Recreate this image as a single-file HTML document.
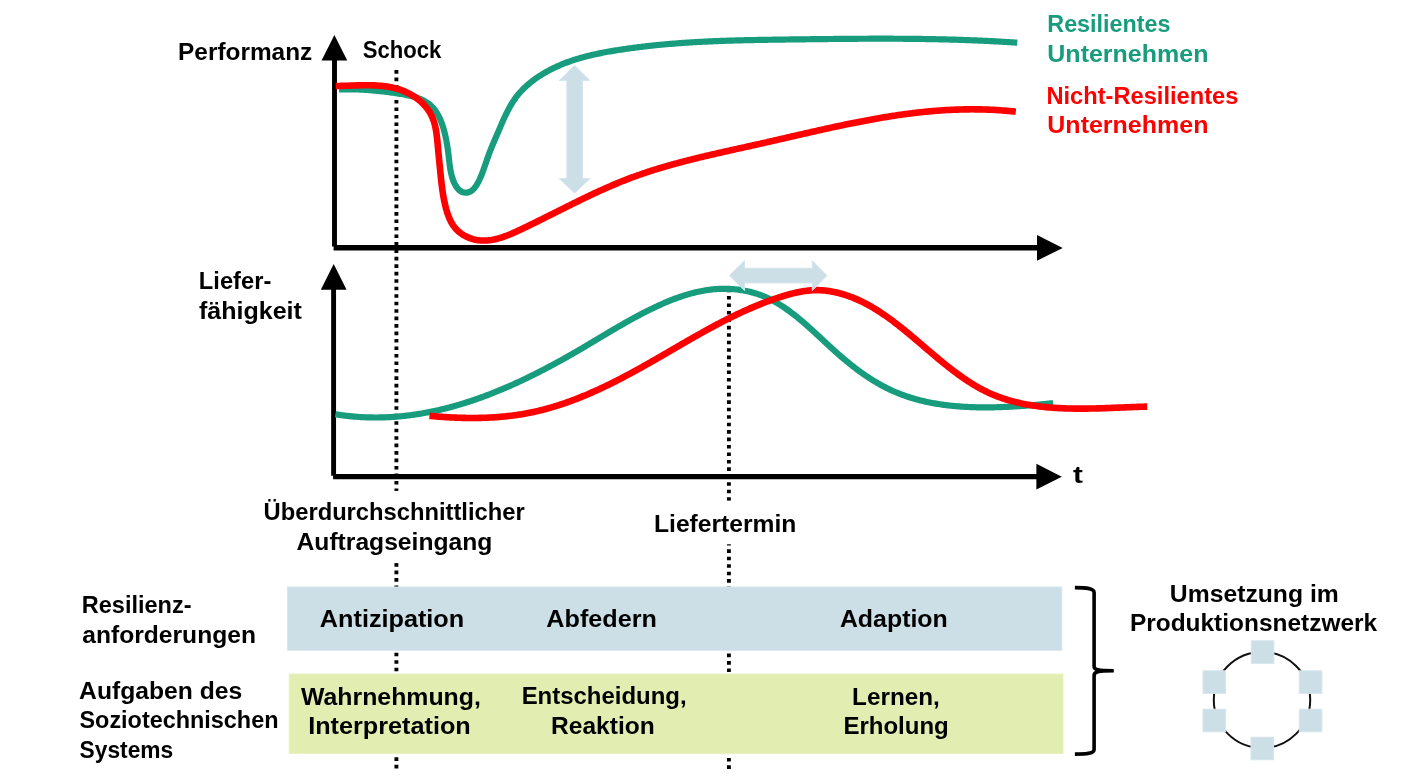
<!DOCTYPE html>
<html><head><meta charset="utf-8"><style>
html,body{margin:0;padding:0;background:#fff;width:1407px;height:780px;overflow:hidden}
svg{display:block;will-change:transform}
text{font-family:"Liberation Sans",sans-serif;font-weight:bold}
</style></head><body>
<svg width="1407" height="780" viewBox="0 0 1407 780">
<line x1="396.4" y1="70.1" x2="396.4" y2="769" stroke="#000" stroke-width="3.9" stroke-dasharray="3.6 3.87"/>
<line x1="728.9" y1="288.55" x2="728.9" y2="769" stroke="#000" stroke-width="3.9" stroke-dasharray="3.6 3.85"/>
<rect x="380" y="490.9" width="40" height="72.2" fill="#fff"/>
<rect x="715" y="500.8" width="30" height="43.5" fill="#fff"/>
<rect x="287.5" y="587" width="774.3" height="63.3" fill="#CCDEE6" stroke="#D6E6EE" stroke-width="1"/>
<rect x="289.2" y="674" width="773.8" height="79.5" fill="#E2EDB1" stroke="#E8F1BF" stroke-width="1"/>
<line x1="334.5" y1="55" x2="334.5" y2="246.5" stroke="#000" stroke-width="4.9"/>
<line x1="333.6" y1="247.7" x2="1040" y2="247.7" stroke="#000" stroke-width="5.4"/>
<polygon points="321.55,60.60 334.40,34.90 347.25,60.60" fill="#000"/>
<polygon points="1037.00,235.05 1062.70,247.90 1037.00,260.75" fill="#000"/>
<line x1="333.6" y1="285" x2="333.6" y2="475.8" stroke="#000" stroke-width="4.9"/>
<line x1="333.1" y1="476.6" x2="1040" y2="476.6" stroke="#000" stroke-width="5.2"/>
<polygon points="320.85,289.80 333.70,264.00 346.55,289.80" fill="#000"/>
<polygon points="1036.40,463.85 1061.80,476.70 1036.40,489.55" fill="#000"/>
<polygon points="574.60,65.50 590.00,80.50 582.40,80.50 582.40,178.60 590.00,178.60 574.60,193.20 559.20,178.60 566.80,178.60 566.80,80.50 559.20,80.50" fill="#CCDEE6" stroke="#D6E6EE" stroke-width="1"/>
<path d="M338.93,89.44 L340.40,89.41 L341.86,89.38 L343.30,89.35 L344.73,89.33 L346.15,89.32 L347.56,89.32 L348.95,89.32 L350.34,89.33 L351.72,89.34 L353.09,89.37 L354.46,89.39 L355.81,89.43 L357.16,89.47 L358.50,89.51 L359.84,89.57 L361.17,89.63 L362.50,89.69 L363.82,89.76 L365.14,89.84 L366.46,89.92 L367.78,90.01 L369.09,90.10 L370.40,90.21 L371.72,90.31 L373.03,90.42 L374.34,90.54 L375.65,90.66 L376.97,90.79 L378.29,90.93 L379.61,91.07 L380.93,91.21 L382.26,91.36 L383.59,91.52 L384.93,91.68 L386.27,91.85 L387.62,92.02 L388.97,92.20 L390.33,92.38 L391.71,92.57 L393.08,92.76 L394.47,92.96 L395.87,93.16 L397.27,93.37 L398.69,93.59 L400.10,93.82 L401.52,94.05 L402.94,94.30 L404.36,94.56 L405.77,94.84 L407.18,95.13 L408.59,95.44 L409.98,95.77 L411.37,96.11 L412.74,96.48 L414.11,96.88 L415.45,97.29 L416.78,97.73 L418.09,98.20 L419.39,98.70 L420.65,99.22 L421.90,99.78 L423.12,100.37 L424.31,100.99 L425.47,101.65 L426.61,102.34 L427.71,103.07 L428.77,103.84 L429.80,104.65 L430.79,105.51 L431.74,106.40 L432.65,107.34 L433.53,108.32 L434.37,109.33 L435.17,110.38 L435.94,111.46 L436.67,112.58 L437.37,113.72 L438.04,114.89 L438.68,116.08 L439.28,117.30 L439.86,118.53 L440.42,119.79 L440.94,121.06 L441.44,122.35 L441.92,123.64 L442.38,124.95 L442.81,126.27 L443.22,127.59 L443.61,128.91 L443.98,130.24 L444.33,131.57 L444.67,132.89 L444.99,134.21 L445.30,135.52 L445.59,136.84 L445.87,138.15 L446.13,139.45 L446.39,140.76 L446.63,142.07 L446.86,143.38 L447.08,144.70 L447.29,146.02 L447.49,147.34 L447.69,148.67 L447.88,150.01 L448.06,151.35 L448.24,152.71 L448.41,154.07 L448.58,155.45 L448.74,156.84 L448.90,158.24 L449.06,159.65 L449.22,161.07 L449.39,162.50 L449.56,163.94 L449.75,165.38 L449.95,166.82 L450.16,168.26 L450.40,169.69 L450.66,171.12 L450.94,172.54 L451.25,173.95 L451.59,175.35 L451.96,176.73 L452.37,178.10 L452.82,179.44 L453.31,180.77 L453.84,182.07 L454.43,183.34 L455.06,184.59 L455.74,185.78 L456.47,186.93 L457.26,188.00 L458.09,188.99 L458.97,189.88 L459.90,190.67 L460.89,191.33 L461.91,191.86 L462.97,192.27 L464.05,192.55 L465.14,192.70 L466.24,192.72 L467.34,192.61 L468.42,192.36 L469.47,191.98 L470.50,191.47 L471.49,190.83 L472.44,190.07 L473.36,189.20 L474.24,188.23 L475.10,187.17 L475.92,186.04 L476.70,184.83 L477.46,183.56 L478.19,182.24 L478.89,180.89 L479.56,179.50 L480.20,178.09 L480.81,176.67 L481.40,175.25 L481.96,173.83 L482.50,172.44 L483.01,171.06 L483.50,169.71 L483.98,168.37 L484.44,167.06 L484.89,165.75 L485.33,164.46 L485.76,163.18 L486.20,161.91 L486.62,160.65 L487.06,159.39 L487.49,158.14 L487.94,156.89 L488.39,155.64 L488.85,154.40 L489.32,153.15 L489.80,151.90 L490.29,150.66 L490.78,149.41 L491.28,148.17 L491.78,146.92 L492.29,145.68 L492.81,144.44 L493.33,143.19 L493.86,141.94 L494.39,140.70 L494.92,139.45 L495.45,138.20 L495.99,136.95 L496.53,135.70 L497.07,134.45 L497.62,133.19 L498.16,131.94 L498.71,130.68 L499.25,129.42 L499.80,128.15 L500.34,126.89 L500.89,125.62 L501.44,124.36 L501.99,123.09 L502.55,121.83 L503.11,120.56 L503.67,119.30 L504.24,118.05 L504.82,116.79 L505.41,115.54 L506.00,114.30 L506.61,113.06 L507.22,111.83 L507.85,110.60 L508.48,109.39 L509.13,108.18 L509.80,106.98 L510.47,105.79 L511.16,104.61 L511.87,103.44 L512.59,102.29 L513.34,101.14 L514.09,100.01 L514.87,98.89 L515.67,97.79 L516.49,96.70 L517.33,95.63 L518.18,94.57 L519.06,93.53 L519.96,92.50 L520.87,91.49 L521.80,90.49 L522.75,89.51 L523.72,88.54 L524.70,87.59 L525.70,86.65 L526.71,85.73 L527.74,84.82 L528.78,83.93 L529.83,83.05 L530.90,82.18 L531.98,81.33 L533.07,80.49 L534.18,79.67 L535.29,78.86 L536.42,78.07 L537.55,77.29 L538.69,76.52 L539.84,75.77 L541.00,75.03 L542.17,74.31 L543.35,73.60 L544.53,72.90 L545.71,72.21 L546.91,71.54 L548.10,70.89 L549.31,70.24 L550.52,69.61 L551.73,68.99 L552.95,68.39 L554.18,67.79 L555.41,67.21 L556.64,66.64 L557.88,66.08 L559.12,65.54 L560.37,65.00 L561.63,64.48 L562.88,63.97 L564.15,63.47 L565.41,62.97 L566.68,62.49 L567.96,62.02 L569.24,61.56 L570.52,61.11 L571.80,60.67 L573.09,60.24 L574.39,59.82 L575.68,59.41 L576.98,59.01 L578.29,58.61 L579.59,58.23 L580.90,57.85 L582.21,57.48 L583.53,57.12 L584.85,56.77 L586.17,56.42 L587.49,56.09 L588.82,55.76 L590.15,55.43 L591.48,55.12 L592.81,54.81 L594.15,54.51 L595.48,54.21 L596.82,53.92 L598.16,53.64 L599.50,53.36 L600.85,53.09 L602.19,52.82 L603.54,52.56 L604.89,52.31 L606.24,52.06 L607.59,51.81 L608.94,51.57 L610.29,51.33 L611.65,51.10 L613.00,50.87 L614.36,50.65 L615.71,50.43 L617.07,50.21 L618.42,49.99 L619.78,49.78 L621.14,49.58 L622.49,49.37 L623.85,49.17 L625.21,48.97 L626.57,48.78 L627.92,48.58 L629.28,48.39 L630.64,48.20 L632.00,48.02 L633.36,47.84 L634.71,47.66 L636.07,47.48 L637.43,47.31 L638.79,47.14 L640.15,46.97 L641.51,46.81 L642.87,46.64 L644.23,46.48 L645.59,46.33 L646.95,46.17 L648.31,46.02 L649.67,45.87 L651.03,45.72 L652.39,45.58 L653.75,45.43 L655.11,45.29 L656.47,45.16 L657.83,45.02 L659.19,44.89 L660.55,44.76 L661.91,44.63 L663.28,44.50 L664.64,44.38 L666.00,44.26 L667.36,44.14 L668.72,44.02 L670.09,43.90 L671.45,43.79 L672.81,43.68 L674.17,43.57 L675.54,43.47 L676.90,43.36 L678.26,43.26 L679.63,43.16 L680.99,43.06 L682.35,42.96 L683.72,42.87 L685.08,42.77 L686.44,42.68 L687.81,42.59 L689.17,42.51 L690.53,42.42 L691.90,42.34 L693.26,42.26 L694.63,42.18 L695.99,42.10 L697.36,42.02 L698.72,41.95 L700.09,41.87 L701.45,41.80 L702.82,41.73 L704.18,41.66 L705.55,41.59 L706.91,41.53 L708.28,41.46 L709.64,41.40 L711.01,41.34 L712.37,41.28 L713.74,41.22 L715.10,41.17 L716.47,41.11 L717.84,41.06 L719.20,41.00 L720.57,40.95 L721.93,40.90 L723.30,40.85 L724.67,40.80 L726.03,40.76 L727.40,40.71 L728.76,40.67 L730.13,40.62 L731.50,40.58 L732.86,40.54 L734.23,40.50 L735.60,40.46 L736.96,40.42 L738.33,40.39 L739.70,40.35 L741.07,40.31 L742.43,40.28 L743.80,40.25 L745.17,40.21 L746.53,40.18 L747.90,40.15 L749.27,40.12 L750.64,40.09 L752.00,40.06 L753.37,40.04 L754.74,40.01 L756.11,39.98 L757.47,39.96 L758.84,39.93 L760.21,39.91 L761.58,39.88 L762.94,39.86 L764.31,39.84 L765.68,39.81 L767.05,39.79 L768.42,39.77 L769.78,39.75 L771.15,39.73 L772.52,39.71 L773.89,39.69 L775.25,39.67 L776.62,39.65 L777.99,39.63 L779.36,39.61 L780.73,39.60 L782.09,39.58 L783.46,39.56 L784.83,39.54 L786.20,39.52 L787.57,39.51 L788.93,39.49 L790.30,39.47 L791.67,39.46 L793.04,39.44 L794.41,39.42 L795.78,39.40 L797.14,39.39 L798.51,39.37 L799.88,39.35 L801.25,39.34 L802.62,39.32 L803.98,39.30 L805.35,39.29 L806.72,39.27 L808.09,39.25 L809.46,39.24 L810.82,39.22 L812.19,39.20 L813.56,39.19 L814.93,39.17 L816.30,39.15 L817.66,39.14 L819.03,39.12 L820.40,39.11 L821.77,39.09 L823.14,39.08 L824.50,39.06 L825.87,39.05 L827.24,39.03 L828.61,39.02 L829.98,39.00 L831.34,38.99 L832.71,38.98 L834.08,38.96 L835.45,38.95 L836.82,38.94 L838.18,38.92 L839.55,38.91 L840.92,38.90 L842.29,38.89 L843.66,38.88 L845.02,38.86 L846.39,38.85 L847.76,38.84 L849.13,38.83 L850.50,38.82 L851.86,38.81 L853.23,38.80 L854.60,38.79 L855.97,38.79 L857.34,38.78 L858.70,38.77 L860.07,38.76 L861.44,38.75 L862.81,38.75 L864.17,38.74 L865.54,38.74 L866.91,38.73 L868.28,38.73 L869.65,38.72 L871.01,38.72 L872.38,38.71 L873.75,38.71 L875.12,38.71 L876.48,38.71 L877.85,38.71 L879.22,38.70 L880.59,38.70 L881.96,38.70 L883.32,38.70 L884.69,38.71 L886.06,38.71 L887.43,38.71 L888.79,38.71 L890.16,38.72 L891.53,38.72 L892.90,38.72 L894.27,38.73 L895.63,38.73 L897.00,38.74 L898.37,38.75 L899.74,38.76 L901.10,38.76 L902.47,38.77 L903.84,38.78 L905.21,38.79 L906.57,38.80 L907.94,38.82 L909.31,38.83 L910.68,38.84 L912.04,38.85 L913.41,38.87 L914.78,38.88 L916.15,38.90 L917.51,38.92 L918.88,38.93 L920.25,38.95 L921.62,38.97 L922.98,38.99 L924.35,39.01 L925.72,39.03 L927.09,39.05 L928.45,39.08 L929.82,39.10 L931.19,39.13 L932.56,39.15 L933.92,39.18 L935.29,39.20 L936.66,39.23 L938.02,39.26 L939.39,39.29 L940.76,39.32 L942.13,39.35 L943.49,39.38 L944.86,39.42 L946.23,39.45 L947.60,39.49 L948.96,39.52 L950.33,39.56 L951.70,39.60 L953.06,39.64 L954.43,39.68 L955.80,39.72 L957.17,39.76 L958.53,39.80 L959.90,39.85 L961.27,39.89 L962.63,39.94 L964.00,39.98 L965.37,40.03 L966.73,40.08 L968.10,40.13 L969.47,40.18 L970.84,40.23 L972.20,40.29 L973.57,40.34 L974.94,40.40 L976.30,40.45 L977.67,40.51 L979.04,40.57 L980.40,40.63 L981.77,40.69 L983.14,40.75 L984.50,40.81 L985.87,40.88 L987.24,40.94 L988.60,41.01 L989.97,41.08 L991.34,41.15 L992.70,41.22 L994.07,41.29 L995.44,41.36 L996.80,41.43 L998.17,41.51 L999.54,41.59 L1000.90,41.66 L1002.27,41.74 L1003.64,41.82 L1005.00,41.90 L1006.37,41.99 L1007.74,42.07 L1009.10,42.15 L1010.47,42.24 L1011.83,42.33 L1013.20,42.42 L1014.57,42.51 L1015.93,42.60 L1017.30,42.69" fill="none" stroke="#179C7D" stroke-width="6.2"/>
<path d="M335.65,85.97 L336.92,85.97 L338.20,85.96 L339.49,85.94 L340.78,85.92 L342.09,85.89 L343.40,85.86 L344.72,85.82 L346.04,85.78 L347.37,85.73 L348.70,85.69 L350.04,85.64 L351.39,85.60 L352.74,85.55 L354.09,85.50 L355.45,85.46 L356.81,85.42 L358.18,85.38 L359.54,85.34 L360.91,85.31 L362.29,85.29 L363.66,85.27 L365.03,85.26 L366.41,85.25 L367.79,85.25 L369.16,85.27 L370.54,85.29 L371.91,85.32 L373.29,85.37 L374.66,85.42 L376.03,85.49 L377.40,85.57 L378.77,85.67 L380.14,85.78 L381.50,85.90 L382.86,86.04 L384.21,86.20 L385.56,86.38 L386.91,86.57 L388.25,86.79 L389.59,87.02 L390.92,87.28 L392.24,87.55 L393.56,87.85 L394.87,88.17 L396.18,88.51 L397.48,88.88 L398.77,89.27 L400.05,89.69 L401.32,90.14 L402.59,90.61 L403.84,91.11 L405.08,91.63 L406.31,92.18 L407.53,92.75 L408.73,93.35 L409.92,93.98 L411.10,94.63 L412.26,95.31 L413.40,96.01 L414.52,96.73 L415.62,97.48 L416.71,98.26 L417.77,99.06 L418.81,99.88 L419.83,100.73 L420.83,101.60 L421.80,102.49 L422.74,103.41 L423.66,104.35 L424.56,105.31 L425.42,106.30 L426.26,107.31 L427.07,108.34 L427.85,109.39 L428.59,110.47 L429.31,111.57 L429.99,112.69 L430.63,113.83 L431.24,115.00 L431.82,116.18 L432.36,117.39 L432.86,118.62 L433.33,119.87 L433.76,121.13 L434.16,122.42 L434.53,123.71 L434.88,125.03 L435.19,126.36 L435.48,127.70 L435.75,129.05 L435.99,130.40 L436.22,131.77 L436.43,133.15 L436.62,134.53 L436.79,135.91 L436.96,137.30 L437.11,138.68 L437.26,140.07 L437.39,141.46 L437.52,142.84 L437.65,144.22 L437.77,145.60 L437.90,146.97 L438.02,148.33 L438.15,149.69 L438.28,151.04 L438.40,152.38 L438.53,153.72 L438.66,155.06 L438.78,156.39 L438.91,157.72 L439.04,159.05 L439.17,160.37 L439.30,161.69 L439.43,163.01 L439.56,164.33 L439.69,165.65 L439.82,166.97 L439.95,168.29 L440.09,169.61 L440.22,170.93 L440.35,172.25 L440.49,173.57 L440.62,174.90 L440.76,176.23 L440.90,177.56 L441.04,178.90 L441.18,180.23 L441.33,181.57 L441.48,182.91 L441.64,184.26 L441.80,185.61 L441.97,186.96 L442.15,188.31 L442.33,189.66 L442.53,191.02 L442.73,192.38 L442.94,193.74 L443.16,195.10 L443.40,196.47 L443.64,197.83 L443.90,199.20 L444.17,200.57 L444.45,201.95 L444.75,203.32 L445.07,204.70 L445.40,206.08 L445.75,207.45 L446.11,208.83 L446.50,210.19 L446.91,211.55 L447.34,212.90 L447.79,214.24 L448.27,215.56 L448.78,216.86 L449.31,218.15 L449.87,219.41 L450.47,220.65 L451.09,221.86 L451.75,223.04 L452.44,224.20 L453.17,225.32 L453.93,226.40 L454.74,227.45 L455.58,228.46 L456.46,229.42 L457.38,230.35 L458.33,231.24 L459.31,232.08 L460.33,232.89 L461.37,233.66 L462.45,234.38 L463.55,235.07 L464.67,235.71 L465.82,236.32 L466.99,236.88 L468.18,237.41 L469.38,237.89 L470.61,238.34 L471.84,238.74 L473.09,239.10 L474.35,239.43 L475.63,239.71 L476.90,239.95 L478.19,240.15 L479.48,240.31 L480.77,240.43 L482.07,240.51 L483.36,240.55 L484.65,240.55 L485.95,240.52 L487.24,240.44 L488.53,240.33 L489.82,240.18 L491.11,240.01 L492.40,239.80 L493.69,239.56 L494.98,239.29 L496.26,238.99 L497.55,238.66 L498.83,238.31 L500.11,237.94 L501.40,237.54 L502.68,237.12 L503.96,236.68 L505.24,236.22 L506.51,235.74 L507.79,235.25 L509.06,234.74 L510.33,234.21 L511.61,233.68 L512.88,233.13 L514.14,232.57 L515.41,232.00 L516.67,231.42 L517.94,230.84 L519.20,230.25 L520.46,229.65 L521.71,229.05 L522.97,228.45 L524.22,227.85 L525.47,227.25 L526.72,226.65 L527.97,226.05 L529.22,225.44 L530.46,224.84 L531.70,224.23 L532.95,223.62 L534.18,223.01 L535.42,222.41 L536.66,221.80 L537.89,221.19 L539.13,220.58 L540.36,219.97 L541.59,219.35 L542.82,218.74 L544.05,218.13 L545.27,217.52 L546.50,216.91 L547.73,216.30 L548.95,215.68 L550.17,215.07 L551.39,214.46 L552.61,213.85 L553.83,213.24 L555.05,212.63 L556.27,212.02 L557.49,211.41 L558.70,210.80 L559.92,210.19 L561.13,209.58 L562.35,208.97 L563.56,208.36 L564.78,207.76 L565.99,207.15 L567.20,206.55 L568.41,205.94 L569.63,205.34 L570.84,204.74 L572.05,204.14 L573.26,203.54 L574.47,202.94 L575.68,202.35 L576.89,201.75 L578.10,201.16 L579.31,200.57 L580.52,199.98 L581.73,199.39 L582.94,198.80 L584.16,198.22 L585.37,197.63 L586.58,197.05 L587.79,196.47 L589.00,195.90 L590.21,195.32 L591.43,194.75 L592.64,194.18 L593.85,193.61 L595.07,193.04 L596.28,192.48 L597.50,191.92 L598.71,191.36 L599.93,190.80 L601.15,190.25 L602.37,189.70 L603.59,189.15 L604.81,188.61 L606.03,188.07 L607.25,187.53 L608.47,186.99 L609.70,186.46 L610.92,185.93 L612.15,185.40 L613.38,184.88 L614.61,184.36 L615.84,183.84 L617.07,183.33 L618.30,182.82 L619.53,182.31 L620.77,181.81 L622.01,181.31 L623.24,180.82 L624.49,180.33 L625.73,179.84 L626.97,179.36 L628.22,178.88 L629.46,178.40 L630.71,177.93 L631.96,177.47 L633.21,177.00 L634.47,176.54 L635.72,176.09 L636.98,175.64 L638.24,175.19 L639.50,174.75 L640.76,174.31 L642.03,173.87 L643.29,173.44 L644.56,173.01 L645.83,172.59 L647.10,172.17 L648.37,171.75 L649.64,171.33 L650.92,170.92 L652.19,170.51 L653.47,170.11 L654.75,169.71 L656.03,169.31 L657.31,168.92 L658.59,168.52 L659.88,168.13 L661.16,167.75 L662.45,167.37 L663.74,166.99 L665.03,166.61 L666.32,166.23 L667.61,165.86 L668.90,165.49 L670.20,165.13 L671.49,164.76 L672.79,164.40 L674.09,164.04 L675.38,163.69 L676.68,163.33 L677.98,162.98 L679.29,162.63 L680.59,162.29 L681.89,161.94 L683.20,161.60 L684.50,161.26 L685.81,160.92 L687.11,160.59 L688.42,160.25 L689.73,159.92 L691.04,159.59 L692.35,159.26 L693.66,158.94 L694.97,158.61 L696.29,158.29 L697.60,157.97 L698.91,157.65 L700.23,157.33 L701.55,157.01 L702.86,156.70 L704.18,156.38 L705.50,156.07 L706.81,155.76 L708.13,155.45 L709.45,155.14 L710.77,154.83 L712.09,154.53 L713.41,154.22 L714.73,153.92 L716.05,153.61 L717.38,153.31 L718.70,153.01 L720.02,152.71 L721.34,152.41 L722.67,152.11 L723.99,151.81 L725.32,151.51 L726.64,151.22 L727.97,150.92 L729.29,150.63 L730.61,150.33 L731.94,150.03 L733.27,149.74 L734.59,149.45 L735.92,149.15 L737.24,148.86 L738.57,148.56 L739.89,148.27 L741.22,147.98 L742.55,147.68 L743.87,147.39 L745.20,147.10 L746.52,146.80 L747.85,146.51 L749.18,146.21 L750.50,145.92 L751.83,145.63 L753.15,145.33 L754.48,145.04 L755.80,144.74 L757.13,144.44 L758.45,144.15 L759.78,143.85 L761.10,143.55 L762.43,143.25 L763.75,142.95 L765.08,142.65 L766.40,142.35 L767.72,142.05 L769.04,141.75 L770.37,141.45 L771.69,141.15 L773.01,140.84 L774.33,140.54 L775.66,140.24 L776.98,139.94 L778.30,139.63 L779.62,139.33 L780.94,139.02 L782.26,138.72 L783.58,138.42 L784.91,138.11 L786.23,137.81 L787.55,137.50 L788.87,137.20 L790.19,136.89 L791.51,136.59 L792.83,136.29 L794.15,135.98 L795.47,135.68 L796.79,135.38 L798.10,135.07 L799.42,134.77 L800.74,134.47 L802.06,134.16 L803.38,133.86 L804.70,133.56 L806.02,133.26 L807.34,132.96 L808.66,132.66 L809.98,132.36 L811.29,132.06 L812.61,131.76 L813.93,131.46 L815.25,131.16 L816.57,130.87 L817.89,130.57 L819.21,130.28 L820.53,129.98 L821.84,129.69 L823.16,129.39 L824.48,129.10 L825.80,128.81 L827.12,128.52 L828.44,128.23 L829.76,127.94 L831.07,127.65 L832.39,127.37 L833.71,127.08 L835.03,126.80 L836.35,126.52 L837.67,126.23 L838.99,125.95 L840.31,125.67 L841.62,125.40 L842.94,125.12 L844.26,124.84 L845.58,124.57 L846.90,124.30 L848.22,124.02 L849.54,123.75 L850.86,123.49 L852.18,123.22 L853.50,122.95 L854.82,122.69 L856.14,122.43 L857.46,122.17 L858.78,121.91 L860.10,121.65 L861.42,121.40 L862.75,121.14 L864.07,120.89 L865.39,120.64 L866.71,120.39 L868.03,120.15 L869.35,119.90 L870.68,119.66 L872.00,119.42 L873.32,119.18 L874.64,118.94 L875.97,118.71 L877.29,118.48 L878.61,118.25 L879.94,118.02 L881.26,117.79 L882.59,117.57 L883.91,117.35 L885.23,117.13 L886.56,116.91 L887.88,116.70 L889.21,116.49 L890.54,116.28 L891.86,116.07 L893.19,115.87 L894.52,115.66 L895.84,115.46 L897.17,115.27 L898.50,115.07 L899.82,114.88 L901.15,114.69 L902.48,114.51 L903.81,114.32 L905.14,114.14 L906.47,113.96 L907.80,113.79 L909.13,113.62 L910.46,113.45 L911.79,113.28 L913.12,113.12 L914.45,112.96 L915.79,112.80 L917.12,112.64 L918.45,112.49 L919.79,112.34 L921.12,112.20 L922.45,112.06 L923.79,111.92 L925.12,111.78 L926.46,111.65 L927.79,111.52 L929.13,111.40 L930.47,111.27 L931.80,111.16 L933.14,111.04 L934.48,110.93 L935.82,110.82 L937.16,110.71 L938.50,110.61 L939.84,110.51 L941.18,110.42 L942.52,110.33 L943.86,110.24 L945.20,110.16 L946.54,110.08 L947.89,110.00 L949.23,109.93 L950.57,109.86 L951.92,109.80 L953.26,109.74 L954.61,109.68 L955.96,109.63 L957.30,109.58 L958.65,109.54 L960.00,109.50 L961.35,109.46 L962.69,109.43 L964.04,109.40 L965.39,109.37 L966.75,109.36 L968.10,109.34 L969.45,109.33 L970.80,109.32 L972.15,109.32 L973.51,109.32 L974.86,109.33 L976.22,109.34 L977.57,109.35 L978.93,109.37 L980.29,109.39 L981.64,109.42 L983.00,109.46 L984.36,109.49 L985.72,109.54 L987.08,109.58 L988.44,109.63 L989.80,109.69 L991.17,109.75 L992.53,109.82 L993.89,109.89 L995.26,109.96 L996.62,110.04 L997.99,110.13 L999.35,110.22 L1000.72,110.32 L1002.09,110.42 L1003.46,110.52 L1004.83,110.63 L1006.20,110.75 L1007.57,110.87 L1008.94,110.99 L1010.31,111.13 L1011.69,111.26 L1013.06,111.40 L1014.43,111.55 L1015.81,111.70" fill="none" stroke="#FF0000" stroke-width="6.6"/>
<path d="M335.35,414.24 L336.69,414.46 L338.03,414.67 L339.37,414.87 L340.70,415.06 L342.04,415.24 L343.37,415.42 L344.70,415.59 L346.04,415.75 L347.37,415.91 L348.70,416.05 L350.03,416.19 L351.35,416.32 L352.68,416.45 L354.01,416.57 L355.33,416.68 L356.66,416.78 L357.98,416.88 L359.31,416.97 L360.63,417.05 L361.95,417.12 L363.27,417.19 L364.59,417.25 L365.90,417.31 L367.22,417.35 L368.54,417.39 L369.85,417.43 L371.17,417.45 L372.48,417.47 L373.79,417.48 L375.10,417.49 L376.41,417.49 L377.72,417.48 L379.03,417.47 L380.34,417.45 L381.64,417.42 L382.95,417.38 L384.25,417.34 L385.56,417.30 L386.86,417.24 L388.16,417.18 L389.46,417.12 L390.76,417.05 L392.06,416.97 L393.36,416.88 L394.65,416.79 L395.95,416.69 L397.24,416.59 L398.54,416.48 L399.83,416.36 L401.12,416.24 L402.41,416.11 L403.70,415.98 L404.99,415.84 L406.28,415.69 L407.56,415.54 L408.85,415.38 L410.13,415.22 L411.42,415.05 L412.70,414.87 L413.98,414.69 L415.26,414.51 L416.54,414.31 L417.82,414.11 L419.09,413.91 L420.37,413.70 L421.64,413.49 L422.92,413.27 L424.19,413.04 L425.46,412.81 L426.73,412.57 L428.00,412.33 L429.27,412.08 L430.54,411.83 L431.81,411.57 L433.07,411.31 L434.34,411.04 L435.60,410.77 L436.86,410.49 L438.12,410.20 L439.39,409.91 L440.64,409.62 L441.90,409.32 L443.16,409.02 L444.42,408.71 L445.67,408.39 L446.92,408.07 L448.18,407.75 L449.43,407.42 L450.68,407.09 L451.93,406.75 L453.18,406.41 L454.43,406.06 L455.67,405.71 L456.92,405.35 L458.16,404.99 L459.40,404.62 L460.65,404.25 L461.89,403.88 L463.13,403.50 L464.37,403.11 L465.60,402.72 L466.84,402.33 L468.08,401.93 L469.31,401.53 L470.54,401.13 L471.78,400.72 L473.01,400.30 L474.24,399.88 L475.46,399.46 L476.69,399.04 L477.92,398.61 L479.14,398.17 L480.37,397.73 L481.59,397.29 L482.81,396.84 L484.03,396.39 L485.25,395.94 L486.47,395.48 L487.69,395.02 L488.91,394.55 L490.12,394.08 L491.34,393.61 L492.55,393.14 L493.76,392.66 L494.97,392.17 L496.18,391.68 L497.39,391.19 L498.60,390.70 L499.80,390.20 L501.01,389.70 L502.21,389.20 L503.41,388.69 L504.62,388.18 L505.82,387.66 L507.02,387.14 L508.21,386.62 L509.41,386.10 L510.61,385.57 L511.80,385.04 L512.99,384.51 L514.19,383.97 L515.38,383.43 L516.57,382.89 L517.76,382.34 L518.94,381.79 L520.13,381.24 L521.31,380.69 L522.50,380.13 L523.68,379.57 L524.86,379.01 L526.04,378.44 L527.22,377.87 L528.40,377.30 L529.58,376.73 L530.75,376.15 L531.93,375.57 L533.10,374.99 L534.27,374.41 L535.44,373.82 L536.61,373.23 L537.78,372.64 L538.95,372.05 L540.11,371.45 L541.28,370.85 L542.44,370.25 L543.60,369.65 L544.76,369.05 L545.92,368.44 L547.08,367.83 L548.24,367.22 L549.40,366.61 L550.55,365.99 L551.70,365.37 L552.86,364.75 L554.01,364.13 L555.16,363.51 L556.31,362.88 L557.45,362.26 L558.60,361.63 L559.75,361.00 L560.89,360.37 L562.03,359.73 L563.17,359.10 L564.31,358.46 L565.45,357.82 L566.59,357.18 L567.73,356.54 L568.86,355.90 L569.99,355.25 L571.13,354.60 L572.26,353.96 L573.39,353.31 L574.52,352.66 L575.64,352.01 L576.77,351.35 L577.90,350.70 L579.02,350.04 L580.14,349.39 L581.26,348.73 L582.38,348.07 L583.50,347.41 L584.62,346.75 L585.74,346.09 L586.85,345.43 L587.97,344.76 L589.08,344.10 L590.20,343.44 L591.31,342.77 L592.42,342.11 L593.53,341.44 L594.65,340.78 L595.76,340.12 L596.87,339.45 L597.98,338.79 L599.09,338.12 L600.20,337.46 L601.31,336.79 L602.42,336.13 L603.54,335.46 L604.65,334.80 L605.76,334.14 L606.87,333.48 L607.98,332.82 L609.10,332.16 L610.21,331.50 L611.32,330.84 L612.44,330.18 L613.55,329.53 L614.67,328.87 L615.79,328.22 L616.91,327.57 L618.02,326.91 L619.14,326.27 L620.27,325.62 L621.39,324.97 L622.51,324.33 L623.64,323.69 L624.77,323.05 L625.89,322.41 L627.02,321.77 L628.16,321.14 L629.29,320.50 L630.42,319.87 L631.56,319.25 L632.70,318.62 L633.84,318.00 L634.98,317.38 L636.13,316.76 L637.28,316.15 L638.42,315.54 L639.58,314.93 L640.73,314.32 L641.89,313.72 L643.05,313.12 L644.21,312.52 L645.37,311.93 L646.54,311.34 L647.71,310.75 L648.88,310.17 L650.06,309.59 L651.24,309.02 L652.42,308.45 L653.60,307.88 L654.79,307.31 L655.98,306.75 L657.18,306.20 L658.38,305.65 L659.58,305.10 L660.78,304.56 L661.99,304.02 L663.20,303.49 L664.41,302.97 L665.63,302.45 L666.85,301.93 L668.07,301.43 L669.30,300.92 L670.52,300.43 L671.75,299.94 L672.99,299.46 L674.22,298.99 L675.46,298.53 L676.70,298.07 L677.95,297.62 L679.19,297.18 L680.44,296.75 L681.70,296.32 L682.95,295.91 L684.21,295.51 L685.46,295.11 L686.73,294.72 L687.99,294.35 L689.26,293.98 L690.52,293.63 L691.79,293.28 L693.07,292.95 L694.34,292.63 L695.62,292.32 L696.90,292.02 L698.18,291.73 L699.46,291.46 L700.74,291.19 L702.03,290.94 L703.32,290.70 L704.61,290.48 L705.90,290.27 L707.19,290.07 L708.49,289.88 L709.79,289.71 L711.09,289.56 L712.39,289.41 L713.69,289.28 L714.99,289.17 L716.30,289.07 L717.60,288.99 L718.91,288.92 L720.21,288.87 L721.52,288.83 L722.83,288.80 L724.13,288.79 L725.44,288.80 L726.75,288.82 L728.05,288.86 L729.35,288.91 L730.66,288.98 L731.96,289.06 L733.25,289.15 L734.55,289.27 L735.84,289.39 L737.14,289.54 L738.42,289.69 L739.71,289.87 L740.99,290.06 L742.27,290.26 L743.54,290.48 L744.81,290.71 L746.08,290.96 L747.34,291.23 L748.59,291.51 L749.84,291.81 L751.09,292.12 L752.33,292.45 L753.56,292.80 L754.79,293.16 L756.01,293.53 L757.23,293.92 L758.44,294.33 L759.64,294.76 L760.83,295.20 L762.02,295.65 L763.20,296.12 L764.37,296.61 L765.54,297.11 L766.70,297.62 L767.85,298.15 L768.99,298.70 L770.13,299.26 L771.27,299.83 L772.39,300.41 L773.51,301.01 L774.63,301.62 L775.74,302.25 L776.84,302.88 L777.94,303.53 L779.03,304.19 L780.12,304.86 L781.20,305.54 L782.27,306.24 L783.35,306.94 L784.41,307.65 L785.48,308.38 L786.53,309.11 L787.59,309.86 L788.64,310.61 L789.68,311.37 L790.72,312.14 L791.76,312.92 L792.79,313.71 L793.82,314.51 L794.85,315.31 L795.87,316.12 L796.89,316.94 L797.90,317.76 L798.92,318.59 L799.93,319.43 L800.93,320.28 L801.94,321.13 L802.94,321.98 L803.94,322.84 L804.94,323.71 L805.93,324.58 L806.93,325.45 L807.92,326.33 L808.91,327.21 L809.90,328.10 L810.88,328.99 L811.87,329.88 L812.85,330.78 L813.83,331.68 L814.81,332.58 L815.79,333.48 L816.77,334.39 L817.75,335.30 L818.73,336.20 L819.71,337.11 L820.69,338.02 L821.66,338.93 L822.64,339.84 L823.62,340.75 L824.60,341.66 L825.58,342.57 L826.55,343.48 L827.53,344.38 L828.51,345.29 L829.49,346.19 L830.48,347.10 L831.46,347.99 L832.44,348.89 L833.43,349.79 L834.41,350.68 L835.40,351.57 L836.39,352.45 L837.39,353.33 L838.38,354.21 L839.38,355.08 L840.37,355.95 L841.37,356.81 L842.38,357.67 L843.38,358.52 L844.39,359.37 L845.40,360.22 L846.41,361.06 L847.42,361.89 L848.44,362.72 L849.46,363.55 L850.48,364.37 L851.50,365.18 L852.53,365.99 L853.56,366.79 L854.59,367.59 L855.62,368.38 L856.66,369.16 L857.70,369.94 L858.75,370.72 L859.79,371.48 L860.84,372.24 L861.90,372.99 L862.95,373.74 L864.01,374.48 L865.07,375.21 L866.14,375.94 L867.21,376.66 L868.28,377.37 L869.36,378.07 L870.44,378.77 L871.52,379.46 L872.61,380.14 L873.70,380.81 L874.79,381.48 L875.89,382.14 L876.99,382.79 L878.10,383.43 L879.21,384.06 L880.32,384.69 L881.44,385.30 L882.56,385.91 L883.69,386.51 L884.82,387.10 L885.95,387.68 L887.09,388.25 L888.23,388.82 L889.38,389.37 L890.53,389.92 L891.69,390.45 L892.85,390.98 L894.02,391.49 L895.19,392.00 L896.36,392.49 L897.54,392.98 L898.72,393.46 L899.91,393.92 L901.11,394.38 L902.30,394.83 L903.50,395.27 L904.71,395.70 L905.92,396.12 L907.13,396.53 L908.35,396.93 L909.57,397.32 L910.80,397.71 L912.03,398.08 L913.26,398.45 L914.50,398.81 L915.74,399.15 L916.98,399.49 L918.23,399.83 L919.48,400.15 L920.73,400.47 L921.99,400.77 L923.25,401.07 L924.51,401.36 L925.77,401.65 L927.04,401.92 L928.31,402.19 L929.59,402.45 L930.87,402.70 L932.15,402.95 L933.43,403.18 L934.71,403.41 L936.00,403.63 L937.29,403.85 L938.58,404.06 L939.88,404.26 L941.17,404.45 L942.47,404.64 L943.77,404.82 L945.07,404.99 L946.38,405.15 L947.69,405.31 L948.99,405.47 L950.30,405.61 L951.61,405.75 L952.93,405.89 L954.24,406.01 L955.56,406.13 L956.87,406.25 L958.19,406.36 L959.51,406.46 L960.83,406.56 L962.15,406.65 L963.48,406.73 L964.80,406.81 L966.13,406.89 L967.45,406.96 L968.78,407.02 L970.10,407.08 L971.43,407.13 L972.76,407.18 L974.09,407.22 L975.42,407.26 L976.75,407.29 L978.07,407.32 L979.40,407.34 L980.73,407.36 L982.06,407.37 L983.39,407.38 L984.72,407.38 L986.05,407.38 L987.38,407.38 L988.71,407.37 L990.04,407.36 L991.36,407.34 L992.69,407.32 L994.02,407.29 L995.35,407.27 L996.67,407.23 L998.00,407.20 L999.32,407.16 L1000.64,407.11 L1001.96,407.07 L1003.28,407.02 L1004.60,406.96 L1005.92,406.90 L1007.24,406.84 L1008.55,406.78 L1009.87,406.71 L1011.18,406.65 L1012.49,406.57 L1013.80,406.50 L1015.11,406.42 L1016.42,406.34 L1017.72,406.26 L1019.02,406.17 L1020.32,406.08 L1021.62,405.99 L1022.92,405.90 L1024.21,405.81 L1025.51,405.71 L1026.80,405.61 L1028.08,405.51 L1029.37,405.41 L1030.65,405.31 L1031.93,405.20 L1033.21,405.09 L1034.48,404.98 L1035.75,404.87 L1037.02,404.76 L1038.29,404.65 L1039.55,404.53 L1040.81,404.42 L1042.07,404.30 L1043.32,404.18 L1044.57,404.07 L1045.82,403.95 L1047.06,403.83 L1048.30,403.70 L1049.54,403.58 L1050.77,403.46 L1052.00,403.34 L1053.22,403.22" fill="none" stroke="#179C7D" stroke-width="6.2"/>
<path d="M429.46,415.85 L430.73,415.97 L431.99,416.08 L433.26,416.19 L434.54,416.30 L435.81,416.41 L437.09,416.51 L438.36,416.61 L439.65,416.71 L440.93,416.80 L442.21,416.89 L443.50,416.98 L444.79,417.06 L446.08,417.14 L447.37,417.22 L448.66,417.30 L449.96,417.37 L451.26,417.43 L452.55,417.50 L453.85,417.56 L455.15,417.61 L456.46,417.66 L457.76,417.71 L459.07,417.76 L460.37,417.80 L461.68,417.83 L462.99,417.86 L464.29,417.89 L465.60,417.92 L466.92,417.94 L468.23,417.95 L469.54,417.96 L470.85,417.97 L472.16,417.97 L473.48,417.97 L474.79,417.96 L476.11,417.95 L477.42,417.93 L478.74,417.91 L480.05,417.89 L481.37,417.86 L482.68,417.82 L484.00,417.78 L485.31,417.73 L486.63,417.68 L487.94,417.63 L489.26,417.57 L490.57,417.50 L491.88,417.43 L493.20,417.35 L494.51,417.27 L495.82,417.18 L497.14,417.09 L498.45,416.99 L499.76,416.88 L501.07,416.77 L502.38,416.66 L503.68,416.54 L504.99,416.41 L506.30,416.27 L507.60,416.14 L508.90,415.99 L510.21,415.84 L511.51,415.68 L512.81,415.52 L514.10,415.34 L515.40,415.17 L516.69,414.98 L517.99,414.80 L519.28,414.60 L520.57,414.40 L521.86,414.19 L523.14,413.97 L524.43,413.75 L525.71,413.52 L526.99,413.28 L528.27,413.04 L529.54,412.79 L530.82,412.53 L532.09,412.27 L533.36,412.00 L534.63,411.72 L535.89,411.44 L537.16,411.15 L538.42,410.85 L539.68,410.55 L540.93,410.24 L542.19,409.93 L543.44,409.61 L544.70,409.28 L545.95,408.95 L547.19,408.61 L548.44,408.26 L549.68,407.91 L550.93,407.56 L552.17,407.19 L553.41,406.82 L554.64,406.45 L555.88,406.07 L557.11,405.69 L558.34,405.30 L559.57,404.90 L560.80,404.50 L562.03,404.09 L563.25,403.68 L564.48,403.26 L565.70,402.84 L566.92,402.41 L568.14,401.98 L569.35,401.54 L570.57,401.10 L571.78,400.65 L572.99,400.20 L574.20,399.74 L575.41,399.28 L576.62,398.82 L577.82,398.34 L579.03,397.87 L580.23,397.39 L581.43,396.90 L582.63,396.42 L583.83,395.92 L585.02,395.43 L586.22,394.92 L587.41,394.42 L588.60,393.91 L589.79,393.40 L590.98,392.88 L592.17,392.36 L593.36,391.83 L594.54,391.30 L595.72,390.77 L596.91,390.23 L598.09,389.69 L599.27,389.15 L600.45,388.60 L601.62,388.05 L602.80,387.49 L603.97,386.94 L605.15,386.38 L606.32,385.81 L607.49,385.24 L608.66,384.67 L609.83,384.10 L611.00,383.52 L612.16,382.94 L613.33,382.36 L614.49,381.77 L615.66,381.19 L616.82,380.60 L617.98,380.00 L619.14,379.41 L620.30,378.81 L621.46,378.21 L622.61,377.60 L623.77,377.00 L624.92,376.39 L626.08,375.78 L627.23,375.16 L628.38,374.55 L629.53,373.93 L630.68,373.31 L631.83,372.69 L632.98,372.07 L634.13,371.44 L635.27,370.81 L636.42,370.19 L637.56,369.56 L638.71,368.92 L639.85,368.29 L640.99,367.65 L642.13,367.02 L643.27,366.38 L644.41,365.74 L645.55,365.10 L646.69,364.46 L647.83,363.81 L648.97,363.17 L650.10,362.52 L651.24,361.88 L652.37,361.23 L653.51,360.58 L654.64,359.93 L655.78,359.28 L656.91,358.63 L658.04,357.98 L659.17,357.32 L660.30,356.67 L661.43,356.02 L662.56,355.36 L663.69,354.71 L664.82,354.05 L665.95,353.40 L667.08,352.74 L668.21,352.09 L669.34,351.43 L670.46,350.77 L671.59,350.12 L672.72,349.46 L673.85,348.81 L674.97,348.15 L676.10,347.50 L677.23,346.84 L678.35,346.19 L679.48,345.53 L680.61,344.88 L681.74,344.22 L682.86,343.57 L683.99,342.92 L685.12,342.27 L686.25,341.62 L687.38,340.97 L688.51,340.32 L689.64,339.67 L690.76,339.02 L691.89,338.38 L693.03,337.73 L694.16,337.09 L695.29,336.44 L696.42,335.80 L697.55,335.16 L698.68,334.52 L699.82,333.89 L700.95,333.25 L702.09,332.61 L703.22,331.98 L704.36,331.35 L705.50,330.72 L706.64,330.09 L707.78,329.47 L708.92,328.84 L710.06,328.22 L711.20,327.60 L712.34,326.98 L713.48,326.37 L714.63,325.75 L715.78,325.14 L716.92,324.53 L718.07,323.93 L719.22,323.32 L720.37,322.72 L721.52,322.12 L722.68,321.52 L723.83,320.93 L724.99,320.34 L726.14,319.75 L727.30,319.16 L728.46,318.58 L729.63,318.00 L730.79,317.42 L731.95,316.85 L733.12,316.28 L734.29,315.71 L735.46,315.15 L736.63,314.58 L737.80,314.03 L738.98,313.47 L740.15,312.92 L741.33,312.37 L742.51,311.83 L743.69,311.29 L744.88,310.75 L746.06,310.22 L747.25,309.69 L748.44,309.16 L749.63,308.64 L750.83,308.12 L752.02,307.61 L753.22,307.10 L754.42,306.60 L755.62,306.09 L756.83,305.60 L758.04,305.10 L759.24,304.62 L760.46,304.13 L761.67,303.65 L762.89,303.18 L764.11,302.71 L765.33,302.24 L766.55,301.78 L767.78,301.33 L769.01,300.88 L770.24,300.43 L771.47,299.99 L772.71,299.55 L773.95,299.12 L775.19,298.69 L776.43,298.27 L777.68,297.86 L778.93,297.45 L780.19,297.04 L781.44,296.64 L782.70,296.25 L783.96,295.86 L785.23,295.49 L786.49,295.12 L787.76,294.75 L789.03,294.40 L790.30,294.06 L791.58,293.73 L792.85,293.41 L794.13,293.10 L795.41,292.80 L796.69,292.52 L797.98,292.24 L799.26,291.99 L800.55,291.74 L801.83,291.52 L803.12,291.30 L804.41,291.11 L805.70,290.93 L806.99,290.77 L808.28,290.62 L809.57,290.49 L810.86,290.39 L812.15,290.30 L813.44,290.23 L814.74,290.18 L816.03,290.16 L817.32,290.15 L818.61,290.17 L819.90,290.21 L821.20,290.27 L822.48,290.36 L823.77,290.46 L825.06,290.59 L826.34,290.73 L827.62,290.89 L828.90,291.08 L830.18,291.28 L831.45,291.49 L832.71,291.73 L833.98,291.98 L835.23,292.24 L836.48,292.53 L837.73,292.82 L838.97,293.13 L840.20,293.46 L841.43,293.79 L842.66,294.15 L843.87,294.51 L845.09,294.89 L846.29,295.28 L847.49,295.69 L848.69,296.10 L849.88,296.53 L851.07,296.98 L852.25,297.43 L853.42,297.90 L854.59,298.38 L855.76,298.87 L856.92,299.37 L858.08,299.88 L859.23,300.41 L860.38,300.94 L861.52,301.49 L862.66,302.05 L863.79,302.61 L864.92,303.19 L866.05,303.78 L867.17,304.38 L868.29,304.98 L869.40,305.60 L870.51,306.23 L871.62,306.86 L872.72,307.51 L873.82,308.16 L874.91,308.82 L876.00,309.49 L877.09,310.17 L878.18,310.86 L879.26,311.56 L880.34,312.26 L881.41,312.97 L882.49,313.69 L883.56,314.41 L884.62,315.14 L885.69,315.88 L886.75,316.63 L887.81,317.38 L888.86,318.14 L889.92,318.90 L890.97,319.67 L892.02,320.45 L893.06,321.23 L894.11,322.02 L895.15,322.81 L896.19,323.61 L897.23,324.41 L898.26,325.22 L899.30,326.03 L900.33,326.85 L901.36,327.67 L902.39,328.50 L903.42,329.32 L904.45,330.16 L905.47,330.99 L906.49,331.83 L907.52,332.67 L908.54,333.52 L909.56,334.36 L910.58,335.21 L911.60,336.07 L912.61,336.92 L913.63,337.78 L914.65,338.64 L915.66,339.50 L916.68,340.36 L917.69,341.22 L918.70,342.09 L919.72,342.95 L920.73,343.82 L921.74,344.68 L922.76,345.55 L923.77,346.42 L924.78,347.29 L925.80,348.15 L926.81,349.02 L927.82,349.89 L928.84,350.75 L929.85,351.62 L930.87,352.48 L931.88,353.34 L932.90,354.21 L933.92,355.06 L934.93,355.92 L935.95,356.78 L936.97,357.63 L937.99,358.49 L939.02,359.33 L940.04,360.18 L941.06,361.02 L942.09,361.87 L943.11,362.70 L944.14,363.54 L945.17,364.37 L946.20,365.20 L947.24,366.02 L948.27,366.84 L949.31,367.65 L950.35,368.46 L951.39,369.27 L952.43,370.07 L953.48,370.87 L954.52,371.66 L955.57,372.44 L956.62,373.22 L957.68,374.00 L958.74,374.77 L959.79,375.53 L960.86,376.29 L961.92,377.04 L962.99,377.78 L964.06,378.52 L965.13,379.25 L966.21,379.97 L967.29,380.69 L968.37,381.39 L969.46,382.09 L970.55,382.79 L971.64,383.47 L972.74,384.15 L973.84,384.82 L974.94,385.48 L976.05,386.13 L977.16,386.77 L978.27,387.40 L979.39,388.02 L980.52,388.64 L981.64,389.24 L982.77,389.84 L983.91,390.42 L985.05,391.00 L986.19,391.56 L987.34,392.11 L988.50,392.66 L989.65,393.19 L990.82,393.71 L991.98,394.22 L993.16,394.72 L994.33,395.21 L995.51,395.68 L996.70,396.15 L997.89,396.60 L999.08,397.05 L1000.28,397.48 L1001.48,397.91 L1002.69,398.32 L1003.90,398.73 L1005.12,399.12 L1006.34,399.50 L1007.56,399.88 L1008.79,400.24 L1010.02,400.60 L1011.25,400.94 L1012.49,401.28 L1013.73,401.61 L1014.97,401.92 L1016.22,402.23 L1017.47,402.53 L1018.73,402.82 L1019.98,403.11 L1021.24,403.38 L1022.51,403.65 L1023.77,403.90 L1025.04,404.15 L1026.31,404.39 L1027.59,404.63 L1028.87,404.85 L1030.15,405.07 L1031.43,405.28 L1032.71,405.48 L1034.00,405.67 L1035.29,405.86 L1036.58,406.04 L1037.88,406.21 L1039.17,406.38 L1040.47,406.54 L1041.77,406.69 L1043.08,406.83 L1044.38,406.97 L1045.69,407.11 L1046.99,407.23 L1048.30,407.35 L1049.61,407.47 L1050.92,407.57 L1052.24,407.67 L1053.55,407.77 L1054.87,407.86 L1056.19,407.95 L1057.51,408.02 L1058.83,408.10 L1060.15,408.17 L1061.47,408.23 L1062.79,408.29 L1064.11,408.34 L1065.44,408.39 L1066.76,408.43 L1068.09,408.47 L1069.41,408.51 L1070.74,408.54 L1072.06,408.56 L1073.39,408.59 L1074.72,408.60 L1076.04,408.62 L1077.37,408.63 L1078.70,408.64 L1080.03,408.64 L1081.35,408.64 L1082.68,408.63 L1084.01,408.63 L1085.33,408.62 L1086.66,408.60 L1087.98,408.59 L1089.31,408.57 L1090.63,408.55 L1091.96,408.52 L1093.28,408.50 L1094.60,408.47 L1095.92,408.43 L1097.24,408.40 L1098.56,408.37 L1099.88,408.33 L1101.20,408.29 L1102.51,408.25 L1103.83,408.20 L1105.14,408.16 L1106.45,408.11 L1107.76,408.07 L1109.07,408.02 L1110.37,407.97 L1111.68,407.92 L1112.98,407.87 L1114.28,407.82 L1115.58,407.76 L1116.88,407.71 L1118.17,407.66 L1119.47,407.60 L1120.76,407.55 L1122.05,407.50 L1123.33,407.44 L1124.62,407.39 L1125.90,407.34 L1127.18,407.28 L1128.45,407.23 L1129.73,407.18 L1131.00,407.13 L1132.27,407.08 L1133.53,407.03 L1134.79,406.98 L1136.05,406.93 L1137.31,406.89 L1138.56,406.84 L1139.81,406.80 L1141.05,406.76 L1142.30,406.72 L1143.54,406.68 L1144.77,406.64 L1146.00,406.61 L1147.23,406.58" fill="none" stroke="#FF0000" stroke-width="6.6"/>
<polygon points="729.40,275.60 744.50,260.65 744.50,268.25 812.30,268.25 812.30,260.65 827.00,275.60 812.30,290.55 812.30,282.95 744.50,282.95 744.50,290.55" fill="#CCDEE6" stroke="#D6E6EE" stroke-width="1"/>
<path d="M1074.9,587.6 C1087,587.6 1094.1,588.3 1094.1,592.5 L1094.1,666.2 C1094.1,669.8 1097.5,670.8 1113.8,670.8 C1097.5,670.8 1094.1,671.8 1094.1,675.4 L1094.1,749.5 C1094.1,753.4 1087,754.1 1074.9,754.1" fill="none" stroke="#000" stroke-width="3.6" stroke-linejoin="miter"/>
<ellipse cx="1262" cy="699.9" rx="48.2" ry="48" fill="none" stroke="#111" stroke-width="2"/>
<rect x="1251.30" y="640.80" width="22.6" height="22.6" fill="#CCDEE6" stroke="#D6E6EE" stroke-width="1"/>
<rect x="1203.00" y="670.80" width="22.6" height="22.6" fill="#CCDEE6" stroke="#D6E6EE" stroke-width="1"/>
<rect x="1299.30" y="670.80" width="22.6" height="22.6" fill="#CCDEE6" stroke="#D6E6EE" stroke-width="1"/>
<rect x="1203.00" y="709.20" width="22.6" height="22.6" fill="#CCDEE6" stroke="#D6E6EE" stroke-width="1"/>
<rect x="1299.30" y="709.20" width="22.6" height="22.6" fill="#CCDEE6" stroke="#D6E6EE" stroke-width="1"/>
<rect x="1251.00" y="737.20" width="22.6" height="22.6" fill="#CCDEE6" stroke="#D6E6EE" stroke-width="1"/>
<text transform="translate(178.11,60.10) scale(0.9914,1)" fill="#000" font-size="24.6">Performanz</text>
<text transform="translate(362.74,57.90) scale(0.8995,1)" fill="#000" font-size="24.6">Schock</text>
<text transform="translate(1047.28,31.80) scale(0.9497,1)" fill="#179C7D" font-size="24.6">Resilientes</text>
<text transform="translate(1047.30,61.70) scale(1.0167,1)" fill="#179C7D" font-size="24.6">Unternehmen</text>
<text transform="translate(1046.46,103.90) scale(0.9618,1)" fill="#FF0000" font-size="24.6">Nicht-Resilientes</text>
<text transform="translate(1047.30,133.30) scale(1.0167,1)" fill="#FF0000" font-size="24.6">Unternehmen</text>
<text transform="translate(198.86,288.90) scale(0.9643,1)" fill="#000" font-size="24.6">Liefer-</text>
<text transform="translate(199.02,318.70) scale(1.0170,1)" fill="#000" font-size="24.6">fähigkeit</text>
<text transform="translate(1073.10,483.30) scale(1.2064,1)" fill="#000" font-size="24.6">t</text>
<text transform="translate(263.57,520.20) scale(0.9655,1)" fill="#000" font-size="24.6">Überdurchschnittlicher</text>
<text transform="translate(296.58,549.70) scale(1.0019,1)" fill="#000" font-size="24.6">Auftragseingang</text>
<text transform="translate(654.00,532.00) scale(1.0021,1)" fill="#000" font-size="24.6">Liefertermin</text>
<text transform="translate(81.77,613.10) scale(0.9564,1)" fill="#000" font-size="24.6">Resilienz-</text>
<text transform="translate(82.26,642.90) scale(1.0009,1)" fill="#000" font-size="24.6">anforderungen</text>
<text transform="translate(79.08,698.60) scale(1.0031,1)" fill="#000" font-size="24.6">Aufgaben des</text>
<text transform="translate(79.50,728.30) scale(0.9522,1)" fill="#000" font-size="24.6">Soziotechnischen</text>
<text transform="translate(79.52,757.60) scale(0.9266,1)" fill="#000" font-size="24.6">Systems</text>
<text transform="translate(319.87,626.90) scale(1.0251,1)" fill="#000" font-size="24.6">Antizipation</text>
<text transform="translate(546.37,627.30) scale(1.0236,1)" fill="#000" font-size="24.6">Abfedern</text>
<text transform="translate(839.88,627.30) scale(1.0131,1)" fill="#000" font-size="24.6">Adaption</text>
<text transform="translate(301.00,705.00) scale(1.0102,1)" fill="#000" font-size="24.6">Wahrnehmung,</text>
<text transform="translate(308.16,734.20) scale(1.0266,1)" fill="#000" font-size="24.6">Interpretation</text>
<text transform="translate(521.64,704.40) scale(0.9737,1)" fill="#000" font-size="24.6">Entscheidung,</text>
<text transform="translate(551.10,734.00) scale(0.9976,1)" fill="#000" font-size="24.6">Reaktion</text>
<text transform="translate(852.12,705.00) scale(0.9882,1)" fill="#000" font-size="24.6">Lernen,</text>
<text transform="translate(843.44,734.00) scale(0.9764,1)" fill="#000" font-size="24.6">Erholung</text>
<text transform="translate(1169.82,601.90) scale(1.0055,1)" fill="#000" font-size="24.6">Umsetzung im</text>
<text transform="translate(1129.91,631.40) scale(0.9943,1)" fill="#000" font-size="24.6">Produktionsnetzwerk</text>
</svg>
</body></html>
